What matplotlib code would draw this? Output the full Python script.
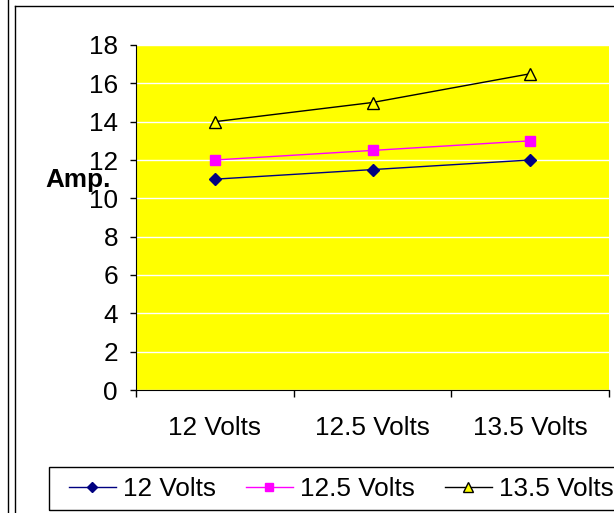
import matplotlib
matplotlib.use("Agg")
import matplotlib.pyplot as plt
from matplotlib.lines import Line2D
from matplotlib.patches import Rectangle

plt.rcParams['font.family'] = ['Liberation Sans', 'DejaVu Sans']

categories = ["12 Volts", "12.5 Volts", "13.5 Volts"]
series_names = ["12 Volts", "12.5 Volts", "13.5 Volts"]
s1 = [11, 11.5, 12]
s2 = [12, 12.5, 13]
s3 = [14, 15, 16.5]
yticks = [0, 2, 4, 6, 8, 10, 12, 14, 16, 18]

W, H = 614, 513
FS = 18.8
fig = plt.figure(figsize=(W / 100, H / 100), dpi=100)
ax = fig.add_axes([136 / W, 1 - 390 / H, (609 - 136) / W, (390 - 45) / H])
ax.set_facecolor("#FFFF00")

xs = [i + 0.5 for i in range(len(categories))]
ax.plot(xs, s1, color="#000080", lw=1, marker="D", ms=6.5, mfc="#000080", mec="#000080", label=series_names[0], zorder=3)
ax.plot(xs, s2, color="#FF00FF", lw=1, marker="s", ms=7, mfc="#FF00FF", mec="#FF00FF", label=series_names[1], zorder=3)
ax.plot(xs, s3, color="black", lw=1, marker="^", ms=8.5, mfc="#FFFF00", mec="black", label=series_names[2], zorder=3)

ax.set_xlim(0, 3)
ax.set_ylim(0, 18)
ax.set_yticks(yticks)
ax.yaxis.grid(True, color="white", lw=1)
ax.set_axisbelow(True)
for side in ["top", "right"]:
    ax.spines[side].set_visible(False)
ax.spines["left"].set_color("black")
ax.spines["bottom"].set_color("black")
ax.tick_params(axis="y", direction="out", length=4, width=1, labelsize=FS, pad=9)
ax.set_xticks([0, 1, 2, 3])
ax.set_xticklabels([])
ax.set_xticks(xs, minor=True)
ax.set_xticklabels(categories, minor=True)
ax.tick_params(axis="x", which="major", direction="out", length=5, width=1)
ax.tick_params(axis="x", which="minor", length=0, labelsize=FS, pad=19)

fig.text(78 / W, 1 - 180 / H, "Amp.", fontsize=FS, fontweight="bold", ha="center", va="center")

leg = fig.legend(loc="center left", bbox_to_anchor=(61 / W, 1 - 489 / H), ncol=3,
                 fontsize=FS, frameon=False, markerscale=0.85,
                 handlelength=1.8, handletextpad=0.27, columnspacing=1.15,
                 borderpad=0.3, borderaxespad=0)

# legend frame (extends beyond the right edge as in the reference)
fig.add_artist(Rectangle((49 / W, 1 - 510 / H), (700 - 49) / W, (510 - 467) / H,
                         transform=fig.transFigure, fill=False, edgecolor="black", lw=1))

# chart border lines
fig.add_artist(Line2D([8 / W, 8 / W], [0, 1], color="black", lw=1))
fig.add_artist(Line2D([15 / W, 15 / W], [0, 1 - 6 / H], color="black", lw=1))
fig.add_artist(Line2D([15 / W, 1], [1 - 6 / H, 1 - 6 / H], color="black", lw=1))

fig.savefig("out.png", dpi=100)
